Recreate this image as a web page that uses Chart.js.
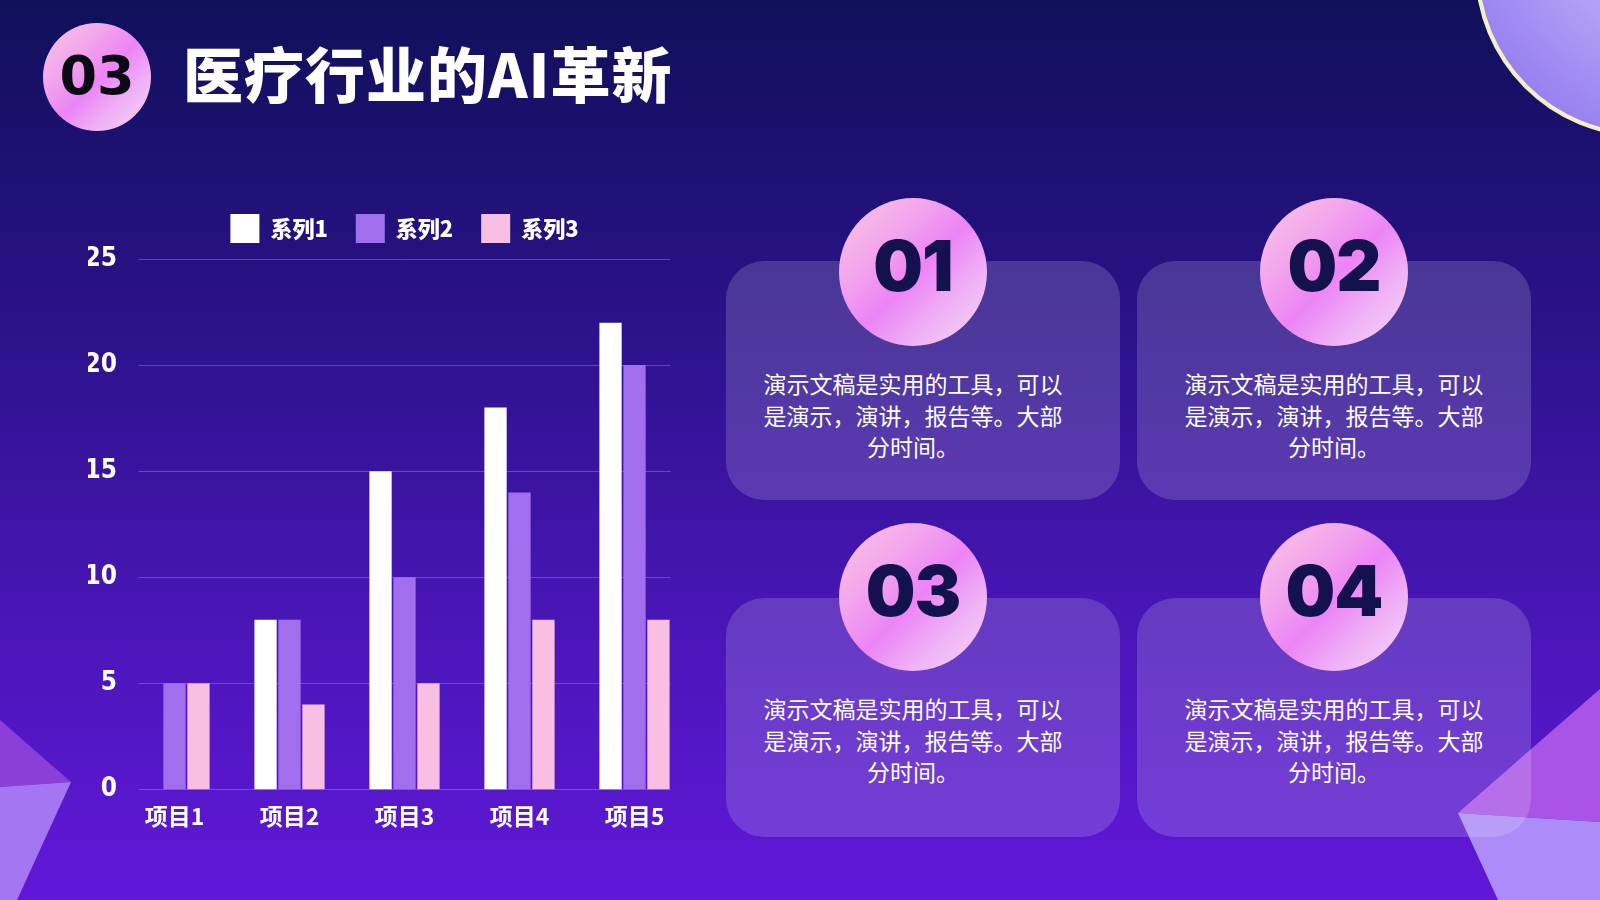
<!DOCTYPE html>
<html>
<head>
<meta charset="utf-8">
<script src="https://cdn.jsdelivr.net/npm/chart.js@4"></script>
<style>
  html, body { margin: 0; padding: 0; }
  body {
    width: 1600px; height: 900px; overflow: hidden; position: relative;
    background: linear-gradient(180deg, #10105a 0%, #2a1288 35%, #4a16b8 70%, #6018d8 100%);
    font-family: "Noto Sans CJK SC", "Noto Sans", sans-serif;
  }
  #deco { position: absolute; left: 0; top: 0; }
  .badge {
    position: absolute; border-radius: 50%;
    background: linear-gradient(135deg, #f9c6e4 0%, #f3a6ec 30%, #ec84f6 52%, #f0b4f6 75%, #f6d6fb 100%);
    color: #14124e; text-align: center;
    font-family: Inter, "Noto Sans", sans-serif; font-weight: 900;
  }
  .num { width: 148px; height: 148px; line-height: 136px; font-size: 70px; letter-spacing: -1px; }
  #title {
    position: absolute; left: 183px; top: 28px; color: #fff;
    font-size: 60px; font-weight: 900; letter-spacing: 1px;
  }
  .card {
    position: absolute; width: 394px; height: 239px; border-radius: 38px;
    background: rgba(255,255,255,0.16);
  }
  .card p {
    position: absolute; left: 0; right: 0; top: 107px; margin: 0;
    padding: 0 40px; text-align: center; color: #fff;
    font-size: 23px; line-height: 31.6px;
  }
  .card.l p { padding: 0 50px 0 30px; }
  .card.low p { top: 95px; }
  #wrap { position: absolute; left: 88px; top: 186px; width: 646px; height: 661px; }
</style>
</head>
<body>
<svg id="deco" width="1600" height="900">
  <defs>
    <radialGradient id="sph" cx="0.75" cy="0.2" r="0.9">
      <stop offset="0" stop-color="#e6e0fa"/>
      <stop offset="0.5" stop-color="#bcaef8"/>
      <stop offset="1" stop-color="#9680f0"/>
    </radialGradient>
  </defs>
  <circle cx="1643" cy="-31" r="168" fill="#f4efc4"/>
  <circle cx="1644" cy="-32" r="165" fill="url(#sph)"/>
  <polygon points="0,720 71,782 0,787" fill="#8c3ed8"/>
  <polygon points="0,787 71,782 17,900 0,900" fill="#a476f2"/>
  <polygon points="1600,689 1458,813 1600,822" fill="#a954e4"/>
  <polygon points="1458,813 1600,822 1600,900 1498,900" fill="#ab8cf8"/>
</svg>

<div class="badge" style="left:43px;top:23px;width:108px;height:108px;line-height:106px;font-size:54px;color:#0a0a14;font-family:'DejaVu Sans';font-weight:900;">03</div>
<div id="title">医疗行业的AI革新</div>

<div class="card l" style="left:726px;top:261px;"><p>演示文稿是实用的工具，可以是演示，演讲，报告等。大部分时间。</p></div>
<div class="card" style="left:1137px;top:261px;"><p>演示文稿是实用的工具，可以是演示，演讲，报告等。大部分时间。</p></div>
<div class="card l low" style="left:726px;top:598px;"><p>演示文稿是实用的工具，可以是演示，演讲，报告等。大部分时间。</p></div>
<div class="card low" style="left:1137px;top:598px;"><p>演示文稿是实用的工具，可以是演示，演讲，报告等。大部分时间。</p></div>

<div class="badge num" style="left:839px;top:198px;">01</div>
<div class="badge num" style="left:1260px;top:198px;">02</div>
<div class="badge num" style="left:839px;top:523px;">03</div>
<div class="badge num" style="left:1260px;top:523px;">04</div>

<div id="wrap"><canvas id="bars"></canvas></div>

<script>
var categories = ['项目1', '项目2', '项目3', '项目4', '项目5'];
var series1 = [0, 8, 15, 18, 22];
var series2 = [5, 8, 10, 14, 20];
var series3 = [5, 4, 5, 8, 8];
var seriesNames = ['系列1', '系列2', '系列3'];
var yTicks = [0, 5, 10, 15, 20, 25];

var catPct = 0.625;
var yFont = { family: "'Liberation Sans Narrow', 'DejaVu Sans Condensed'", size: 26, weight: 'bold' };
var xFont = { family: "'Liberation Sans Narrow', 'Noto Sans CJK SC'", size: 23, weight: 'bold' };

// gridlines only span the bar groups, not the whole category band
var insetGrid = {
    id: 'insetGrid',
    beforeDatasetsDraw: function(chart) {
        var a = chart.chartArea, y = chart.scales.y, c = chart.ctx;
        var band = (a.right - a.left) / categories.length;
        var inset = band * (1 - catPct) / 2;
        c.save();
        c.strokeStyle = 'rgba(150,120,255,0.5)';
        c.lineWidth = 1;
        yTicks.forEach(function(v) {
            var py = Math.round(y.getPixelForValue(v)) + 0.5;
            c.beginPath();
            c.moveTo(a.left + inset, py);
            c.lineTo(a.right - inset, py);
            c.stroke();
        });
        c.restore();
    }
};

var legendGap = {
    id: 'legendGap',
    beforeInit: function(chart) {
        var fit = chart.legend.fit;
        chart.legend.fit = function() {
            fit.bind(chart.legend)();
            this.height += 6;
        };
    }
};

var ctx = document.getElementById('bars').getContext('2d');
var chart = new Chart(ctx, {
    type: 'bar',
    data: {
        labels: categories,
        datasets: [{
            label: seriesNames[0],
            data: series1,
            backgroundColor: '#ffffff'
        }, {
            label: seriesNames[1],
            data: series2,
            backgroundColor: '#a16fee'
        }, {
            label: seriesNames[2],
            data: series3,
            backgroundColor: '#f8bfe3'
        }]
    },
    options: {
        responsive: true,
        maintainAspectRatio: false,
        animation: false,
        categoryPercentage: catPct,
        barPercentage: 0.93,
        layout: {
            padding: { left: 0, right: 42, top: 0, bottom: 4 }
        },
        scales: {
            x: {
                grid: { display: false, drawTicks: false },
                border: { display: false },
                ticks: { color: '#ffffff', font: xFont, padding: 13 }
            },
            y: {
                min: 0,
                max: 25,
                afterBuildTicks: function(axis) {
                    axis.ticks = yTicks.map(function(v) { return { value: v }; });
                },
                afterFit: function(axis) { axis.width = 29; },
                ticks: { color: '#ffffff', font: yFont, padding: 0 },
                grid: { display: false, drawTicks: false },
                border: { display: false }
            }
        },
        plugins: {
            legend: {
                display: true,
                position: 'top',
                fullSize: false,
                labels: {
                    color: '#ffffff',
                    boxWidth: 29,
                    boxHeight: 29,
                    padding: 28,
                    font: { family: "'Noto Sans CJK SC'", size: 22, weight: '900' }
                }
            },
            tooltip: { enabled: false }
        }
    },
    plugins: [insetGrid, legendGap]
});
</script>
</body>
</html>
